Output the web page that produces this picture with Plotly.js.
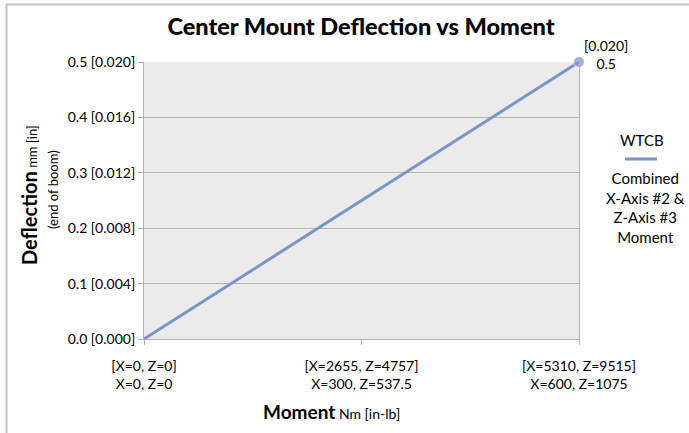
<!DOCTYPE html>
<html>
<head>
<meta charset="utf-8">
<script src="https://cdn.plot.ly/plotly-3.0.1.min.js"></script>
<style>html,body{margin:0;padding:0;background:#fff;}#chart{width:689px;height:433px;}</style>
</head>
<body>
<div id="chart"></div>
<script>
var moment = [0, 300, 600];
var deflection = [0, 0.25, 0.5];
var xTickVals = [0, 300, 600];
var xTickText = ['[X=0, Z=0]<br>X=0, Z=0', '[X=2655, Z=4757]<br>X=300, Z=537.5', '[X=5310, Z=9515]<br>X=600, Z=1075'];
var yTickVals = [0, 0.1, 0.2, 0.3, 0.4, 0.5];
var yTickText = ['0.0 [0.000]', '0.1 [0.004]', '0.2 [0.008]', '0.3 [0.012]', '0.4 [0.016]', '0.5 [0.020]'];
var seriesGroup = 'WTCB';
var seriesName = 'Combined<br>X-Axis #2 &<br>Z-Axis #3<br>Moment';
var endLabel = '[0.020]<br>0.5';

var F = 'Lato, "Open Sans", sans-serif';
var lineColor = '#7b93c8';
var W = 689, H = 433;
var L = 144, R = 579, T = 62, B = 339;
function px(x){ return (x - L) / (R - L); }
function py(y){ return (B - y) / (B - T); }

var trace = {
  x: moment, y: deflection, type: 'scatter', mode: 'lines+markers',
  line: {color: lineColor, width: 3},
  marker: {color: lineColor, size: [0, 0, 11]},
  showlegend: false, cliponaxis: false
};

var layout = {
  width: W, height: H,
  margin: {l: L, r: W - R, t: T, b: H - B},
  paper_bgcolor: '#ffffff', plot_bgcolor: '#ebebeb',
  font: {family: F, size: 14, color: '#000'},
  title: {text: 'Center Mount Deflection vs Moment', font: {family: F, size: 23.5, weight: 900, color: '#000'}, xref: 'container', yref: 'container', x: 361 / W, xanchor: 'center', y: 1 - 27 / H, yanchor: 'middle'},
  xaxis: {range: [0, 600], tickvals: xTickVals, ticktext: xTickText, showgrid: false, zeroline: false,
    showline: true, linecolor: '#b3b3b3', linewidth: 1, ticks: 'outside', ticklen: 5, tickcolor: '#b3b3b3',
    ticklabelstandoff: 9, tickfont: {family: F, size: 14}},
  yaxis: {range: [0, 0.5], tickvals: yTickVals, ticktext: yTickText, showgrid: true, gridcolor: '#b3b3b3', gridwidth: 1,
    zeroline: false, showline: true, mirror: true, linecolor: '#b3b3b3', linewidth: 1, ticks: 'outside', ticklen: 5, tickcolor: '#b3b3b3',
    tickfont: {family: F, size: 14}},
  annotations: [
    {xref: 'paper', yref: 'paper', x: px(606), y: py(54), text: endLabel, showarrow: false, xanchor: 'center', yanchor: 'middle', align: 'center', font: {family: F, size: 14}},
    {xref: 'paper', yref: 'paper', x: px(331), y: py(411), text: '<b style="font-size:19px">Moment</b> Nm [in-lb]', showarrow: false, xanchor: 'center', yanchor: 'middle', font: {family: F, size: 14}},
    {xref: 'paper', yref: 'paper', x: px(29), y: py(195), text: '<b style="font-size:20px">Deflection</b> mm [in]', textangle: -90, showarrow: false, xanchor: 'center', yanchor: 'middle', font: {family: F, size: 13}},
    {xref: 'paper', yref: 'paper', x: px(53), y: py(190), text: '(end of boom)', textangle: -90, showarrow: false, xanchor: 'center', yanchor: 'middle', font: {family: F, size: 13}},
    {xref: 'paper', yref: 'paper', x: px(642), y: py(140), text: seriesGroup, showarrow: false, xanchor: 'center', yanchor: 'middle', font: {family: F, size: 15}},
    {xref: 'paper', yref: 'paper', x: px(645), y: py(207), text: seriesName, showarrow: false, xanchor: 'center', yanchor: 'middle', align: 'center', font: {family: F, size: 15}}
  ],
  shapes: [
    {type: 'line', xref: 'paper', yref: 'paper', x0: px(625), x1: px(657), y0: py(159), y1: py(159), line: {color: lineColor, width: 3}},
    {type: 'line', xref: 'paper', yref: 'paper', x0: px(6), x1: px(689), y0: py(4.5), y1: py(4.5), line: {color: '#c4c4c4', width: 2}},
    {type: 'line', xref: 'paper', yref: 'paper', x0: px(6.5), x1: px(6.5), y0: py(4), y1: py(433), line: {color: '#c4c4c4', width: 2}}
  ]
};

Plotly.newPlot('chart', [trace], layout, {staticPlot: true, displayModeBar: false});
</script>
</body>
</html>
